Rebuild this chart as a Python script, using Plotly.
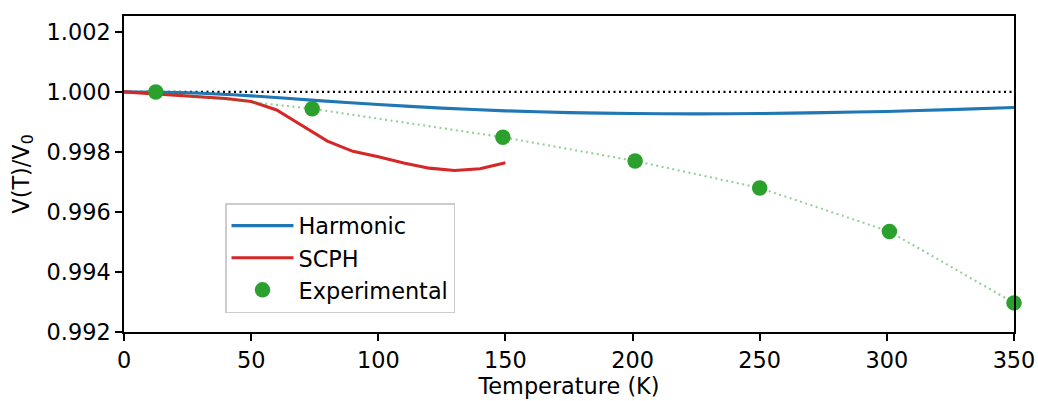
import plotly.graph_objects as go

# Harmonic curve
harm_T = [0, 25, 50, 75, 100, 125, 150, 175, 200, 225, 250, 275, 300, 325, 350]
harm_V = [1.00000, 0.99997, 0.99987, 0.99972, 0.99958, 0.99946, 0.99937, 0.99931,
          0.99928, 0.99927, 0.99928, 0.99931, 0.99935, 0.99941, 0.99948]

# SCPH curve
scph_T = [0, 10, 20, 30, 40, 50, 60, 70, 80, 90, 100, 110, 120, 130, 140, 150]
scph_V = [1.00000, 0.99995, 0.99989, 0.99983, 0.99978, 0.99968, 0.99940, 0.99888,
          0.99836, 0.99802, 0.99784, 0.99763, 0.99746, 0.99738, 0.99744, 0.99764]

# Experimental points
exp_T = [12.5, 74, 149, 201, 250, 301, 350]
exp_V = [1.00000, 0.99944, 0.99849, 0.99770, 0.99680, 0.99535, 0.99297]

x_ticks = [0, 50, 100, 150, 200, 250, 300, 350]
y_ticks = [0.992, 0.994, 0.996, 0.998, 1.000, 1.002]

FONT = "DejaVu Sans"
FS = 22.4

fig = go.Figure()

fig.add_hline(y=1.0, line=dict(color="black", width=2.2, dash="2px,3.5px"), layer="below")

fig.add_trace(go.Scatter(x=harm_T, y=harm_V, mode="lines", name="Harmonic", legendgroup="a",
                         line=dict(color="#1f77b4", width=3.1, shape="spline", smoothing=0.6)))
fig.add_trace(go.Scatter(x=scph_T, y=scph_V, mode="lines", name="SCPH", legendgroup="b",
                         line=dict(color="#d62728", width=3.1)))
fig.add_trace(go.Scatter(x=exp_T, y=exp_V, mode="lines", showlegend=False, legendgroup="c",
                         line=dict(color="rgba(44,160,44,0.5)", width=2.1, dash="2px,3.5px")))
fig.add_trace(go.Scatter(x=exp_T, y=exp_V, mode="markers", name="Experimental", legendgroup="c",
                         marker=dict(color="#2ca02c", size=15.5, line=dict(width=0)),
                         cliponaxis=False))

axis_common = dict(showline=True, linecolor="black", linewidth=1.7, mirror=True,
                   ticks="outside", ticklen=7, tickwidth=1.7, tickcolor="black",
                   showgrid=False, zeroline=False,
                   tickfont=dict(family=FONT, size=FS, color="black"))

fig.update_xaxes(range=[0, 350], tickvals=x_ticks,
                 title=dict(text="Temperature (K)", font=dict(family=FONT, size=FS, color="black"), standoff=4),
                 **axis_common)
fig.update_yaxes(range=[0.992, 1.00253], tickvals=y_ticks, tickformat=".3f",
                 title=dict(text="V(T)/V<sub>0</sub>", font=dict(family=FONT, size=FS, color="black"), standoff=11),
                 **axis_common)

fig.update_layout(
    width=1038, height=401,
    margin=dict(l=124, r=24, t=16, b=69, autoexpand=False),
    paper_bgcolor="white", plot_bgcolor="white",
    font=dict(family=FONT, size=FS, color="black"),
    legend=dict(x=0.1135, y=0.408, xanchor="left", yanchor="top",
                bgcolor="rgba(255,255,255,0.8)", bordercolor="#cccccc", borderwidth=1.5,
                font=dict(family=FONT, size=FS, color="black"),
                itemwidth=62, tracegroupgap=0, traceorder="grouped"),
    showlegend=True,
)

fig.write_html("out.html")
